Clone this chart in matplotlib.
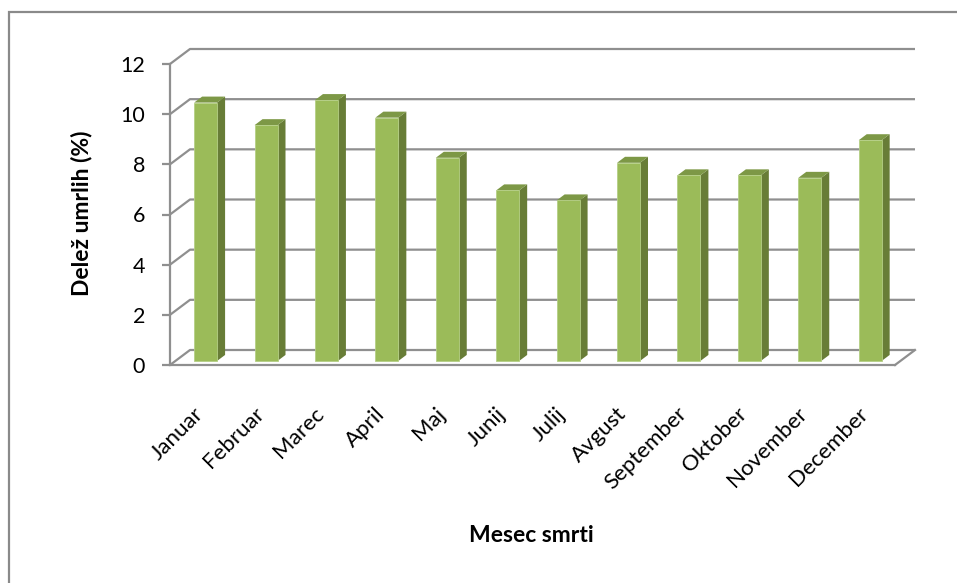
import matplotlib
matplotlib.use("Agg")
import matplotlib.pyplot as plt
from matplotlib.patches import Polygon, Rectangle

plt.rcParams['font.family'] = ['Lato', 'DejaVu Sans']

# ---- data ----
months = ["Januar", "Februar", "Marec", "April", "Maj", "Junij", "Julij",
          "Avgust", "September", "Oktober", "November", "December"]
share = [10.3, 9.4, 10.4, 9.7, 8.1, 6.8, 6.4, 7.9, 7.4, 7.4, 7.3, 8.8]
yticks = [0, 2, 4, 6, 8, 10, 12]
ylabel = "Delež umrlih (%)"
xlabel = "Mesec smrti"

# ---- style ----
W, H = 957, 583
GRID = '#8f8f8f'
FRONT = '#9bbb59'
SIDE = '#687d37'
TOP = '#7d9846'

DX, DY = 0.331, 0.598      # 3-D depth offset (data units)
F0, D = 0.27, 0.40         # bar depth start / depth fraction
BW = 0.38                  # bar width

fig = plt.figure(figsize=(W / 100, H / 100), dpi=100)
ax = fig.add_axes([170 / W, (H - 365) / H, 725 / W, 301 / H])
ax.set_xlim(0, 12)
ax.set_ylim(0, 12)

# back wall gridlines and side wall diagonals
for v in yticks:
    ax.plot([0, DX, 12 + DX], [v, v + DY, v + DY], color=GRID, lw=1.6,
            clip_on=False, zorder=1, solid_capstyle='butt')
# floor right edge
ax.plot([12, 12 + DX], [0, DY], color=GRID, lw=1.6, clip_on=False, zorder=1)

# bars
xs = [i + 0.5 + F0 * DX for i in range(len(months))]
b0 = F0 * DY
ax.bar(xs, share, width=BW, bottom=b0, color=FRONT, edgecolor='#b5cf85',
       linewidth=0.6, zorder=3)
for x, v in zip(xs, share):
    r = x + BW / 2
    l = x - BW / 2
    top = b0 + v
    side = Polygon([(r, b0), (r + D * DX, b0 + D * DY), (r + D * DX, top + D * DY), (r, top)],
                   closed=True, facecolor=SIDE, edgecolor='none', zorder=2, clip_on=False)
    topf = Polygon([(l, top), (r, top), (r + D * DX, top + D * DY), (l + D * DX, top + D * DY)],
                   closed=True, facecolor=TOP, edgecolor='none', zorder=2, clip_on=False)
    ax.add_patch(side)
    ax.add_patch(topf)

# axes styling
for s in ['top', 'right']:
    ax.spines[s].set_visible(False)
for s in ['left', 'bottom']:
    ax.spines[s].set_color(GRID)
    ax.spines[s].set_linewidth(1.6)
ax.set_yticks(yticks)
ax.set_yticklabels([str(t) for t in yticks], fontsize=15.5)
ax.tick_params(axis='y', direction='out', length=6, width=1.6, color=GRID, pad=12)
ax.set_xticks([i + 0.5 for i in range(len(months))])
ax.set_xticklabels(months, fontsize=16, rotation=45, ha='right', va='center',
                   rotation_mode='anchor')
ax.tick_params(axis='x', length=0, pad=33)
ax.patch.set_alpha(0)

fig.text(82 / W, 1 - 213 / H, ylabel, rotation=90, ha='center', va='center',
         fontsize=16.5, fontweight='bold')
fig.text(531 / W, 1 - 535 / H, xlabel, ha='center', va='center',
         fontsize=16.5, fontweight='bold')

# outer chart border
fig.patches.append(Rectangle((9 / W, -0.05), 1.0, 1 - 12 / H + 0.05,
                             transform=fig.transFigure, fill=False,
                             edgecolor='#8a8a8a', lw=1.6))

fig.savefig('out.png', dpi=100)
